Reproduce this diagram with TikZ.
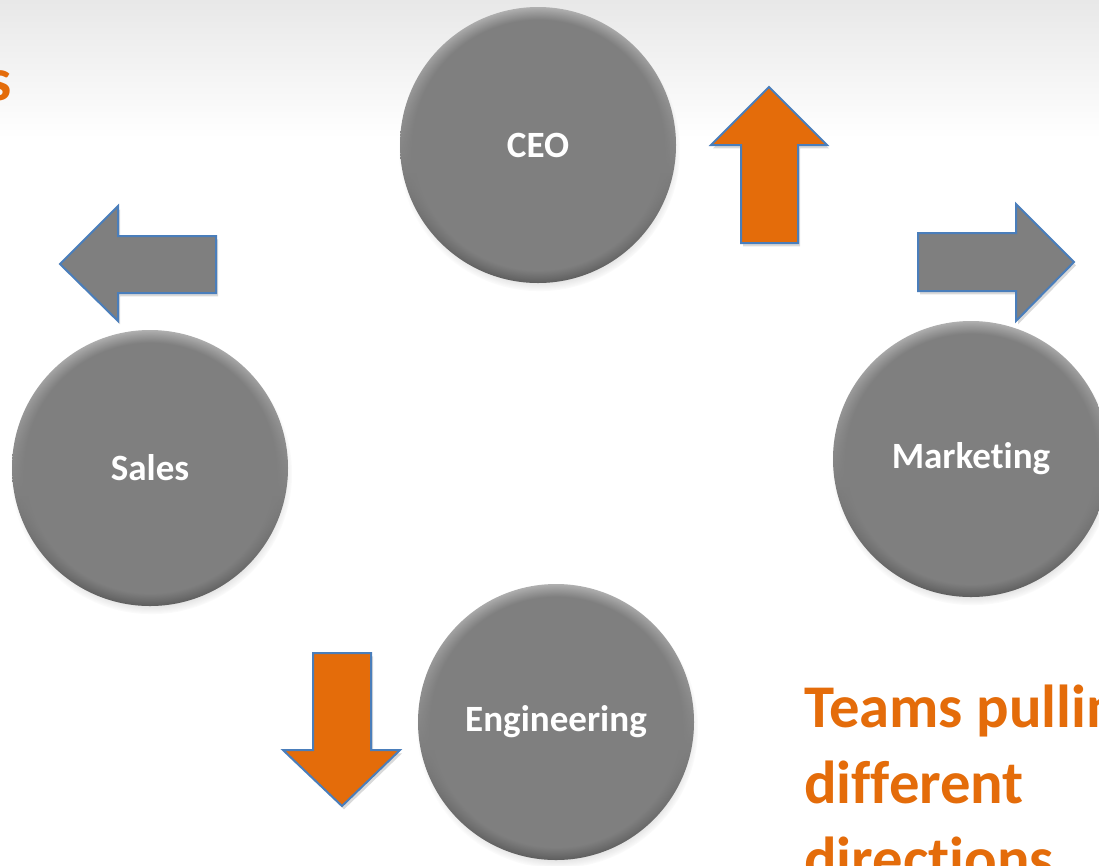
\documentclass[tikz,border=0pt]{standalone}
\usepackage{fontspec}
\setmainfont{Carlito}[Ligatures=NoCommon]
\usetikzlibrary{shadows,fadings}

\definecolor{orangeacc}{HTML}{E46C0A}
\definecolor{discgray}{HTML}{7F7F7F}
\definecolor{rimlight}{HTML}{B2B2B2}
\definecolor{rimdark}{HTML}{5C5C5C}
\definecolor{arrowline}{HTML}{4A7EBB}
\definecolor{bgtop}{HTML}{E8E8E8}

% soft inner edge of each disc: opaque core, fading over the outer rim
\pgfdeclareradialshading{discrimshade}{\pgfpointorigin}{color(0bp)=(white); color(22.6bp)=(white); color(25bp)=(black); color(50bp)=(black)}
\pgfdeclarefading{discrim}{\pgfuseshading{discrimshade}}

\tikzset{
  disc/.style={circle, minimum size=207pt, inner sep=0pt, text=white,
    font=\bfseries\fontsize{27.8}{30}\selectfont,
    circular drop shadow={shadow xshift=1pt, shadow yshift=-4pt, shadow scale=1.02, opacity=0.4, fill=black!60},
    top color=rimlight, bottom color=rimdark,
    path picture={\fill[discgray, path fading=discrim] (path picture bounding box.center) circle[radius=103.5pt];}},
  blockarrow/.style={draw=arrowline, line width=1.5pt, line join=miter,
    drop shadow={shadow xshift=1.5pt, shadow yshift=-2.5pt, opacity=0.15, fill=black}},
  pullarrow/.style={blockarrow, fill=orangeacc},
  sidearrow/.style={blockarrow, fill=discgray},
  headline/.style={inner sep=0pt, text=orangeacc, font=\bfseries\fontsize{45.5}{57}\selectfont}
}

\begin{document}
\begin{tikzpicture}[x=0.75pt, y=-0.75pt]
  \useasboundingbox (0,0) rectangle (1099,865);
  \clip (0,0) rectangle (1099,865);

  % page background with a light band along the top
  \fill[white] (0,0) rectangle (1099,865);
  \shade[top color=bgtop, bottom color=white] (0,0) rectangle (1099,138);

  % title fragments
  \node[headline, anchor=base east] (title) at (12,100) {s};
  \node[headline, anchor=base west] (teams1) at (804,727) {Teams pulling};
  \node[headline, anchor=base west] (teams2) at (804,803) {different};
  \node[headline, anchor=base west] (teams3) at (804,879) {directions};

  % block arrows
  \path[pullarrow] (769,87) -- (827,145) -- (798,145) -- (798,243) -- (741,243) -- (741,145) -- (711,145) -- cycle;
  \path[sidearrow] (918,233) -- (1016,233) -- (1016,204) -- (1074,262) -- (1016,321) -- (1016,291) -- (918,291) -- cycle;
  \path[sidearrow] (60,264) -- (118,206) -- (118,236) -- (216,236) -- (216,293) -- (118,293) -- (118,321) -- cycle;
  \path[pullarrow] (313,653) -- (371,653) -- (371,750) -- (400,750) -- (342,806) -- (283,750) -- (313,750) -- cycle;

  % team discs
  \node[disc] (ceo) at (538,145) {CEO};
  \node[disc] (sales) at (150,468) {Sales};
  \node[disc] (marketing) at (971,459) {Marketing};
  \node[disc] (engineering) at (556,722) {Engineering};
\end{tikzpicture}
\end{document}
